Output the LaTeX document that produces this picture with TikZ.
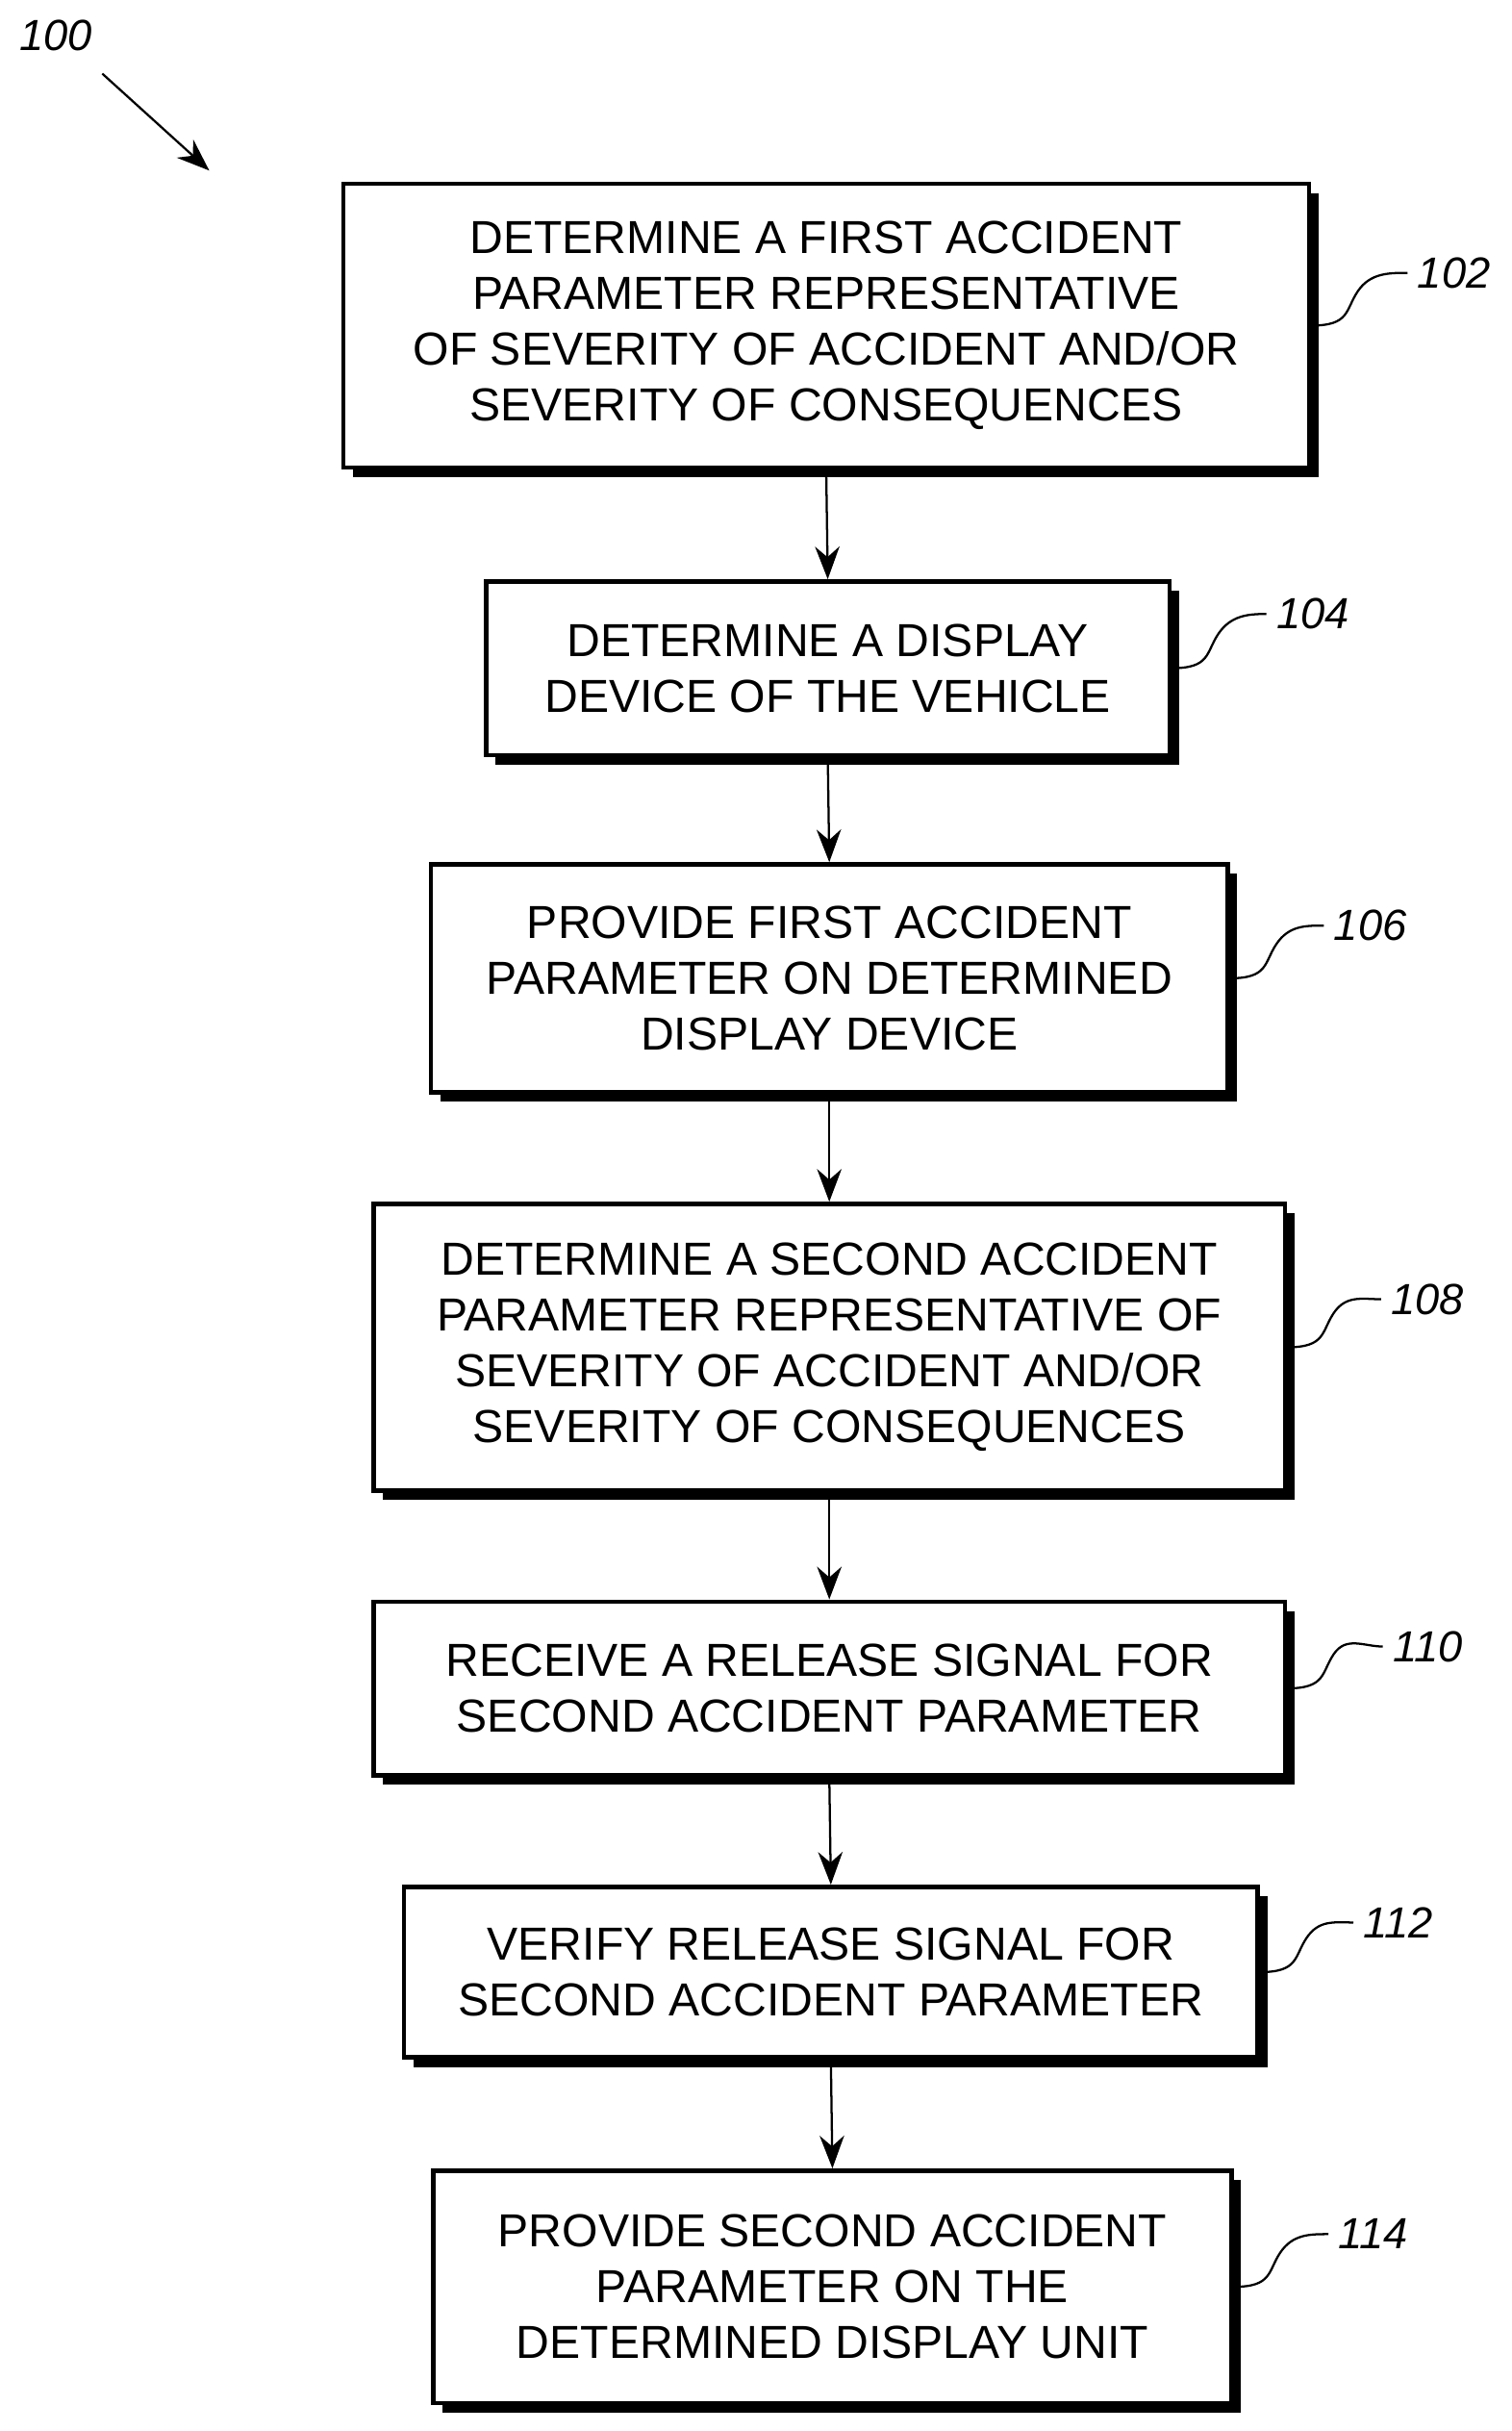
\documentclass[tikz,border=0pt]{standalone}
\usepackage{fontspec}
\setmainfont{Liberation Sans}
\usetikzlibrary{arrows.meta,shadows}
\begin{document}
\begin{tikzpicture}[x=0.02cm,y=-0.02cm,>={Stealth[length=12pt,width=9pt]},thick,
                    font=\fontsize{17}{20.5}\selectfont]
  \tikzset{box/.style={draw,line width=1.6pt,fill=white,align=center,inner sep=0pt,
             drop shadow={shadow xshift=3.5pt,shadow yshift=-3.5pt,fill=black,opacity=1}},
           ref/.style={font=\fontsize{16}{18}\selectfont\itshape}}
  \useasboundingbox (0,0) rectangle (975,1568);

  \node[box,minimum width=12.46cm,minimum height=3.66cm] (b102) at (533,210)
    {DETERMINE A FIRST ACCIDENT\\PARAMETER REPRESENTATIVE\\OF SEVERITY OF ACCIDENT AND/OR\\SEVERITY OF CONSEQUENCES};
  \node[box,minimum width=8.82cm,minimum height=2.24cm] (b104) at (534,431)
    {DETERMINE A DISPLAY\\DEVICE OF THE VEHICLE};
  \node[box,minimum width=10.28cm,minimum height=2.94cm] (b106) at (535,631)
    {PROVIDE FIRST ACCIDENT\\PARAMETER ON DETERMINED\\DISPLAY DEVICE};
  \node[box,minimum width=11.76cm,minimum height=3.7cm] (b108) at (535,869)
    {DETERMINE A SECOND ACCIDENT\\PARAMETER REPRESENTATIVE OF\\SEVERITY OF ACCIDENT AND/OR\\SEVERITY OF CONSEQUENCES};
  \node[box,minimum width=11.76cm,minimum height=2.24cm] (b110) at (535,1089)
    {RECEIVE A RELEASE SIGNAL FOR\\SECOND ACCIDENT PARAMETER};
  \node[box,minimum width=11.02cm,minimum height=2.2cm] (b112) at (536,1272)
    {VERIFY RELEASE SIGNAL FOR\\SECOND ACCIDENT PARAMETER};
  \node[box,minimum width=10.3cm,minimum height=3cm] (b114) at (537,1475)
    {PROVIDE SECOND ACCIDENT\\PARAMETER ON THE\\DETERMINED DISPLAY UNIT};

  % reference numerals
  \node[ref] (l100) at (36,23) {100};
  \node[ref] (l102) at (938,176) {102};
  \node[ref] (l104) at (847,396) {104};
  \node[ref] (l106) at (884,597) {106};
  \node[ref] (l108) at (921,838) {108};
  \node[ref] (l110) at (921,1062) {110};
  \node[ref] (l112) at (902,1240) {112};
  \node[ref] (l114) at (886,1441) {114};

  \coordinate (p100) at (135,110);
  \draw[->] (l100.south east) ++(0,8) -- (p100);

  \foreach \n in {102,104,106,108,110,112,114}
    \draw (b\n.east) .. controls +(25,0) and +(-8,12) .. ++(30,-22)
                     .. controls +(8,-12) and +(-12,0) .. (l\n.west);

  \draw[->] (b102.south) -- (b104.north);
  \draw[->] (b104.south) -- (b106.north);
  \draw[->] (b106.south) -- (b108.north);
  \draw[->] (b108.south) -- (b110.north);
  \draw[->] (b110.south) -- (b112.north);
  \draw[->] (b112.south) -- (b114.north);
\end{tikzpicture}
\end{document}
